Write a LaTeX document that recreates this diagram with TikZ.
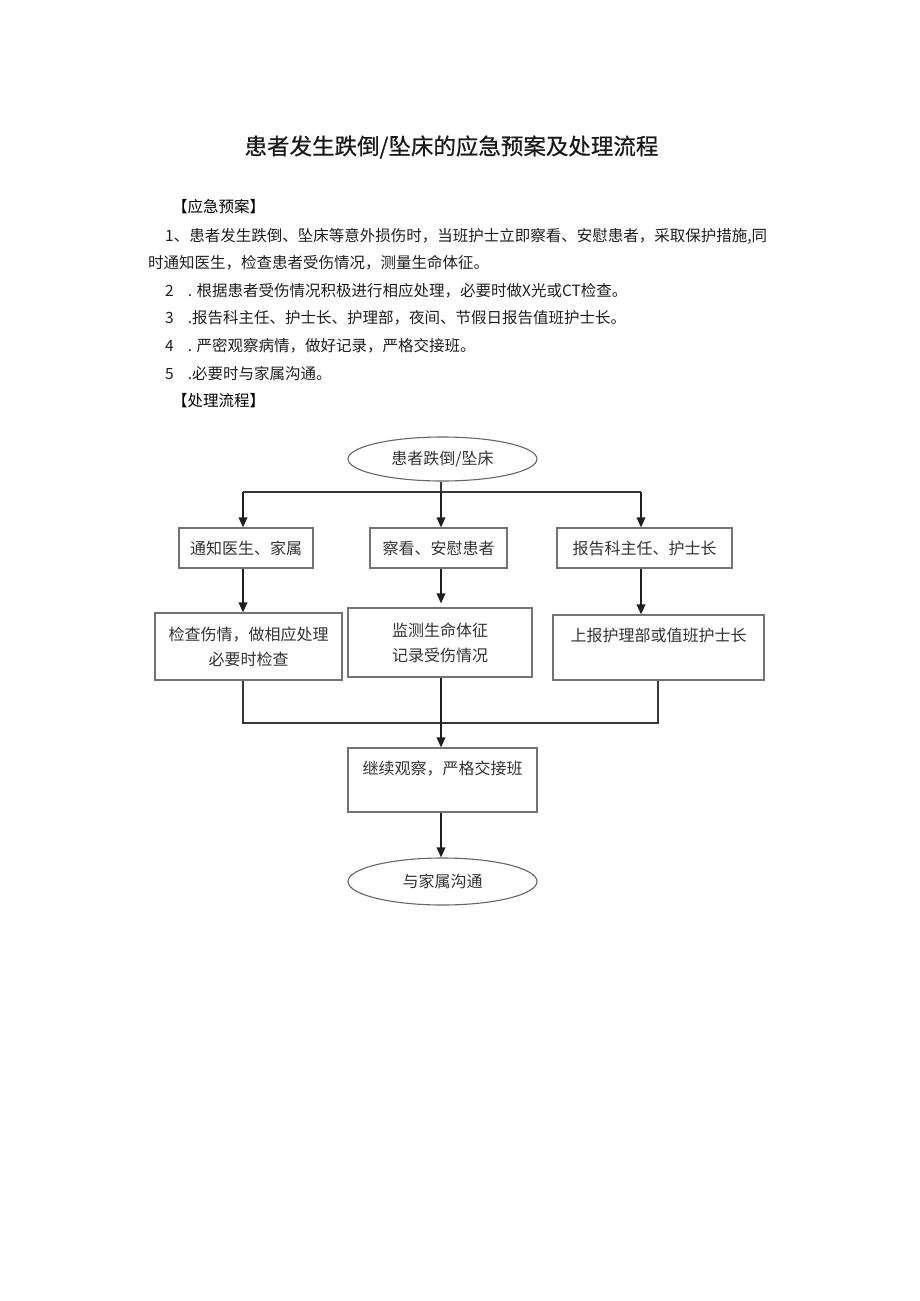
\documentclass[tikz,border=0pt]{standalone}
\usepackage{fontspec}
\setmainfont{Noto Sans CJK SC}
\newfontfamily\titlefont[FakeBold=0.6]{Noto Sans CJK SC}
\usetikzlibrary{arrows.meta,shapes.geometric}
\begin{document}
\begin{tikzpicture}[x=1pt,y=-1pt,
  box/.style={draw=black!55, line width=1.1pt, fill=white, inner sep=0pt, align=center,
    font=\fontsize{16}{25}\selectfont, text=black!80},
  ell/.style={ellipse, draw=black!60, line width=1.1pt, fill=white, inner sep=0pt,
    font=\fontsize{16}{20}\selectfont, text=black!80},
  arr/.style={-{Triangle[length=10pt,width=8.5pt]}, line width=1.8pt, draw=black!88},
  ln/.style={line width=1.4pt, draw=black!78},
  body/.style={anchor=west, inner sep=0pt, font=\fontsize{15.5}{18}\selectfont, text=black!88},
  head/.style={anchor=west, inner sep=0pt, font=\fontsize{15.5}{18}\selectfont, text=black}]
\fill[white] (0,0) rectangle (920,1301);
\useasboundingbox (0,0) rectangle (920,1301);

% title
\node[inner sep=0pt, font=\titlefont\fontsize{22.5}{26}\selectfont, text=black!90] (title) at (451.5,147) {患者发生跌倒/坠床的应急预案及处理流程};

% text
\node[head] (h1) at (172,207) {【应急预案】};
\node[body] (l1) at (165,236) {1、患者发生跌倒、坠床等意外损伤时，当班护士立即察看、安慰患者，采取保护措施,同};
\node[body] (l2) at (148,263) {时通知医生，检查患者受伤情况，测量生命体征。};
\node[body] (l3) at (165,291) {2\hspace{14pt}. 根据患者受伤情况积极进行相应处理，必要时做X光或CT检查。};
\node[body] (l4) at (165,318) {3\hspace{14pt}.报告科主任、护士长、护理部，夜间、节假日报告值班护士长。};
\node[body] (l5) at (165,346) {4\hspace{14pt}. 严密观察病情，做好记录，严格交接班。};
\node[body] (l6) at (165,374) {5\hspace{14pt}.必要时与家属沟通。};
\node[head] (h2) at (172,401) {【处理流程】};

% flowchart nodes
\node[ell, minimum width=189pt, minimum height=44pt] (e1) at (442.5,459) {患者跌倒/坠床};

\node[box, minimum width=134pt, minimum height=40pt] (a) at (246,548) {通知医生、家属};
\node[box, minimum width=137pt, minimum height=40pt] (b) at (438.5,548) {察看、安慰患者};
\node[box, minimum width=175pt, minimum height=40pt] (c) at (644.5,548) {报告科主任、护士长};

\node[box, minimum width=187pt, minimum height=67pt] (a2) at (248.5,646.5) {检查伤情，做相应处理\\必要时检查};
\node[box, minimum width=184pt, minimum height=69pt] (b2) at (440,642.5) {监测生命体征\\记录受伤情况};
\node[box, minimum width=211pt, minimum height=65pt] (c2) at (658.5,647.5) {上报护理部或值班护士长\\\mbox{}};

\node[box, minimum width=189pt, minimum height=64pt] (d) at (442.5,780) {继续观察，严格交接班\\\mbox{}};

\node[ell, minimum width=189pt, minimum height=47pt] (e2) at (442.5,881.5) {与家属沟通};

% junction coordinates
\coordinate (jm) at (441,492);
\coordinate (jl) at (243,492);
\coordinate (jr) at (641,492);
\coordinate (bl) at (243,723);
\coordinate (bm) at (441,723);
\coordinate (br) at (658,723);

% connectors
\draw[ln] (e1.south -| jm) -- (jm);
\draw[ln] (jl) -- (jr);
\draw[arr] (jl) -- (jl |- a.north);
\draw[arr] (jm) -- (jm |- b.north);
\draw[arr] (jr) -- (jr |- c.north);

\draw[arr] (jl |- a.south) -- (jl |- a2.north);
\draw[arr] (jm |- b.south) -- ([yshift=4pt]jm |- b2.north);
\draw[arr] (jr |- c.south) -- (jr |- c2.north);

\draw[ln] (bl |- a2.south) -- (bl) -- (br) -- (br |- c2.south);
\draw[arr] (bm |- b2.south) -- (bm |- d.north);
\draw[arr] (bm |- d.south) -- (bm |- e2.north);
\end{tikzpicture}
\end{document}
